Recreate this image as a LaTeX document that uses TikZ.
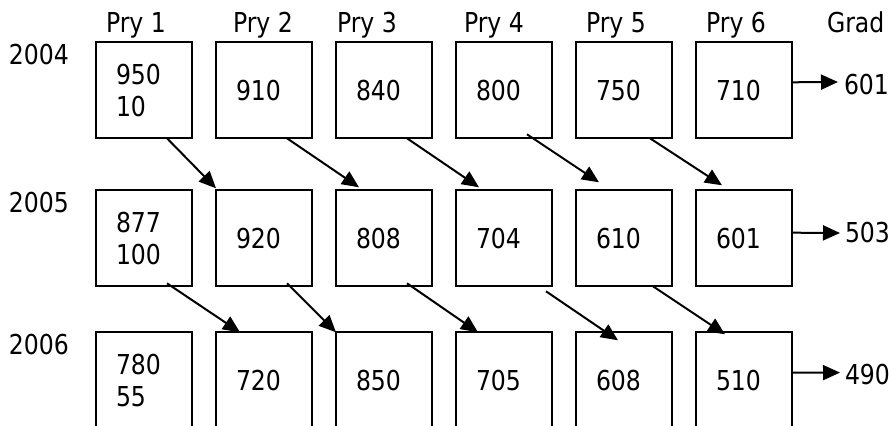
\documentclass[tikz,border=0pt]{standalone}
\usepackage{fontspec}
\setmainfont{DejaVu Sans}[FakeStretch=0.86]
\usetikzlibrary{arrows.meta,positioning}

\begin{document}
\begin{tikzpicture}[
        x=0.5pt, y=-0.5pt,
        node distance=26pt and 12pt,
        every node/.style={font=\fontsize{13.7}{16}\selectfont},
        every path/.style={line width=1pt},
        cell/.style={draw, outer sep=0pt, minimum width=48pt, minimum height=48pt,
            inner xsep=10pt, inner ysep=0pt, text width=28pt, align=left,
            execute at end node={\endgraf\vskip3pt}},
        lbl/.style={inner sep=0pt},
        flow/.style={-{Triangle[length=8.5pt,width=7.5pt]}}
    ]
    \useasboundingbox (0,0) rectangle (889,426);

    % Headings
    \node[lbl, anchor=base west] (h1) at (105,33) {Pry 1};
    \node[lbl, anchor=base west] (h2) at (232,33) {Pry 2};
    \node[lbl, anchor=base west] (h3) at (336,33) {Pry 3};
    \node[lbl, anchor=base west] (h4) at (463,33) {Pry 4};
    \node[lbl, anchor=base west] (h5) at (585,33) {Pry 5};
    \node[lbl, anchor=base west] (h6) at (705,33) {Pry 6};
    \node[lbl, anchor=base west] (hg) at (826,33) {Grad};

    \node[lbl, anchor=base west] (y1) at (8,65) {2004};
    \node[lbl, anchor=base west] (y2) at (8,213) {2005};
    \node[lbl, anchor=base west] (y3) at (8,355) {2006};

    % Row 2004
    \node[cell] (b11) at (144,90.3) {950\\10};
    \node[cell, right=of b11] (b12) {910};
    \node[cell, right=of b12] (b13) {840};
    \node[cell, right=of b13] (b14) {800};
    \node[cell, right=of b14] (b15) {750};
    \node[cell, right=of b15] (b16) {710};

    % Row 2005
    \node[cell, below=of b11] (b21) {877\\100};
    \node[cell, right=of b21] (b22) {920};
    \node[cell, right=of b22] (b23) {808};
    \node[cell, right=of b23] (b24) {704};
    \node[cell, right=of b24] (b25) {610};
    \node[cell, right=of b25] (b26) {601};

    % Row 2006
    \node[cell, below=of b21, yshift=3pt] (b31) {780\\55};
    \node[cell, right=of b31] (b32) {720};
    \node[cell, right=of b32] (b33) {850};
    \node[cell, right=of b33] (b34) {705};
    \node[cell, right=of b34] (b35) {608};
    \node[cell, right=of b35] (b36) {510};

    % Graduates
    \node[lbl, anchor=west] (g1) at (843,85) {601};
    \node[lbl, anchor=west] (g2) at (844,233) {503};
    \node[lbl, anchor=west] (g3) at (844,375) {490};

    % Edges
    \draw[flow] ([xshift=11.5pt]b11.south) -- ([yshift=1pt]b22.north west);
    \draw[flow] ([xshift=11.5pt]b12.south) -- ([xshift=11.5pt,yshift=1.5pt]b23.north west);
    \draw[flow] ([xshift=11.5pt]b13.south) -- ([xshift=11.5pt,yshift=1.5pt]b24.north west);
    \draw[flow] ([xshift=11.5pt,yshift=2pt]b14.south) -- ([xshift=11.5pt,yshift=4pt]b25.north west);
    \draw[flow] ([xshift=13pt]b15.south) -- ([xshift=13pt,yshift=2.5pt]b26.north west);

    \draw[flow] ([xshift=11.5pt,yshift=1.5pt]b21.south) -- ([xshift=12pt]b32.north west);
    \draw[flow] ([xshift=11.5pt,yshift=1.5pt]b22.south) -- (b33.north west);
    \draw[flow] ([xshift=11.5pt,yshift=1.5pt]b23.south) -- ([xshift=11pt]b34.north west);
    \draw[flow] ([xshift=21pt,yshift=-2.5pt]b24.south) -- ([xshift=21pt,yshift=-4pt]b35.north west);
    \draw[flow] ([xshift=14.5pt]b25.south) -- ([xshift=14.5pt,yshift=-1pt]b36.north west);

    \draw[flow] ([yshift=4pt]b16.east) -- ([xshift=-2.5pt,yshift=1.5pt]g1.west);
    \draw[flow] ([yshift=2.8pt]b26.east) -- ([xshift=-2pt,yshift=0pt]g2.west);
    \draw[flow] ([yshift=3.8pt]b36.east) -- ([xshift=-2pt,yshift=1.2pt]g3.west);

\end{tikzpicture}
\end{document}
